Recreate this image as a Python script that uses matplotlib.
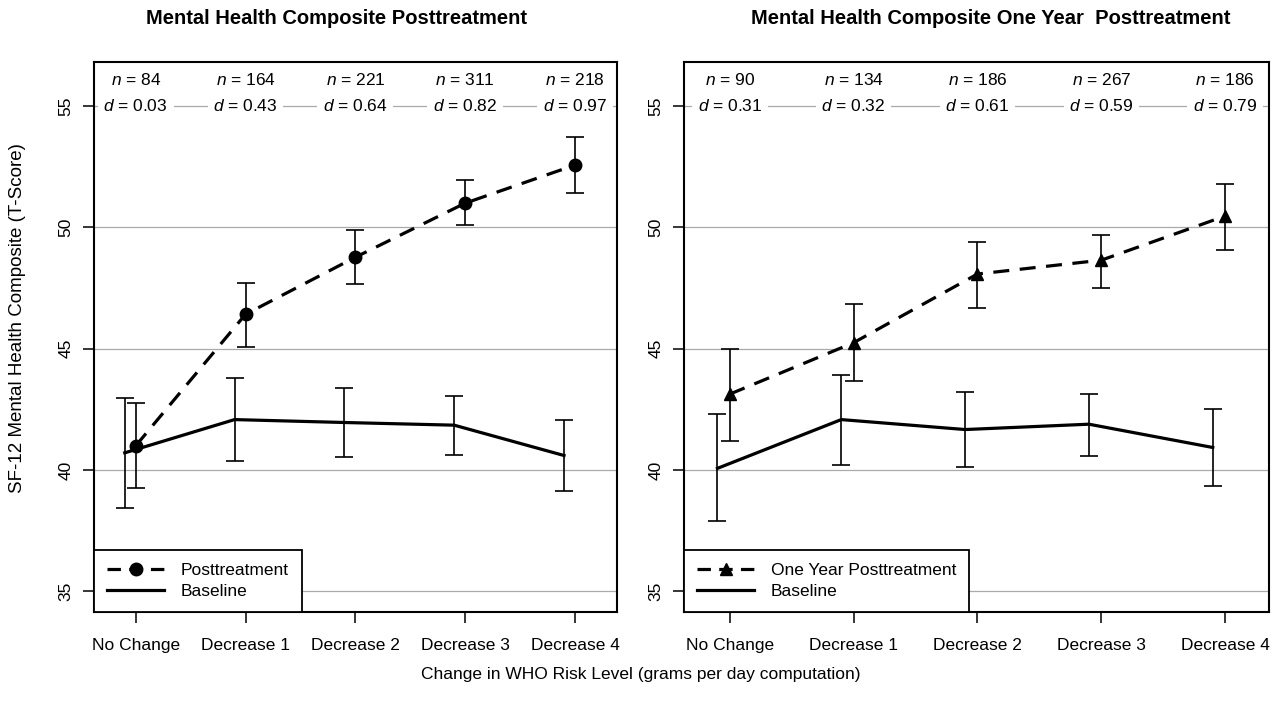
import matplotlib.pyplot as plt
from matplotlib.lines import Line2D
import numpy as np

# fonts: Arial-like, italic n and d via mathtext
plt.rcParams['font.family'] = ['Liberation Sans', 'DejaVu Sans']
plt.rcParams['mathtext.fontset'] = 'custom'
plt.rcParams['mathtext.it'] = 'Liberation Sans:italic'
plt.rcParams['mathtext.rm'] = 'Liberation Sans'

# data
categories = ['No Change', 'Decrease 1', 'Decrease 2', 'Decrease 3', 'Decrease 4']

post_mean = [41.0, 46.42, 48.77, 51.0, 52.57]
post_lo = [39.25, 45.08, 47.67, 50.1, 51.43]
post_hi = [42.77, 47.71, 49.88, 51.95, 53.71]
base1_mean = [40.71, 42.08, 41.96, 41.85, 40.6]
base1_lo = [38.42, 40.37, 40.52, 40.63, 39.14]
base1_hi = [42.99, 43.79, 43.40, 43.04, 42.08]
n1 = [84, 164, 221, 311, 218]
d1 = ['0.03', '0.43', '0.64', '0.82', '0.97']

year_mean = [43.13, 45.25, 48.08, 48.65, 50.47]
year_lo = [41.18, 43.65, 46.66, 47.49, 49.07]
year_hi = [45.0, 46.85, 49.38, 49.68, 51.8]
base2_mean = [40.07, 42.08, 41.67, 41.89, 40.93]
base2_lo = [37.88, 40.22, 40.11, 40.59, 39.36]
base2_hi = [42.29, 43.9, 43.23, 43.15, 42.52]
n2 = [90, 134, 186, 267, 186]
d2 = ['0.31', '0.32', '0.61', '0.59', '0.79']

W, H = 1282, 702
fig = plt.figure(figsize=(W / 100, H / 100), dpi=100)
ax1 = fig.add_axes([94 / W, 1 - 612 / H, (616.7 - 94) / W, (612 - 61.7) / H])
ax2 = fig.add_axes([684 / W, 1 - 612 / H, (1268.5 - 684) / W, (612 - 61.7) / H])

FS = 12.5


def draw_panel(ax, mean, lo, hi, b_mean, b_lo, b_hi, n, d, marker, label, xlim):
    x = np.arange(1, len(categories) + 1)
    mean, lo, hi = np.array(mean), np.array(lo), np.array(hi)
    b_mean, b_lo, b_hi = np.array(b_mean), np.array(b_lo), np.array(b_hi)

    for g in [35, 40, 45, 50, 55]:
        ax.axhline(g, color='#aaaaaa', lw=0.9, zorder=0)

    # baseline, shifted a bit left
    ax.plot(x - 0.1, b_mean, color='black', lw=2.3, zorder=3)
    ax.errorbar(x - 0.1, b_mean, yerr=[b_mean - b_lo, b_hi - b_mean], fmt='none',
                ecolor='black', elinewidth=1.2, capsize=6.2, capthick=1.2, zorder=3)

    # follow-up
    ax.plot(x, mean, color='black', lw=2.3, ls=(0, (5, 3.3)), marker=marker,
            ms=9, zorder=4)
    ax.errorbar(x, mean, yerr=[mean - lo, hi - mean], fmt='none',
                ecolor='black', elinewidth=1.2, capsize=6.2, capthick=1.2, zorder=4)

    # n and d labels along the top
    for i in range(len(x)):
        ax.text(x[i], 56.07, r'$n$ = %d' % n[i], ha='center', va='center', fontsize=FS)
        ax.text(x[i], 55.0, r'$d$ = ' + d[i], ha='center', va='center', fontsize=FS,
                bbox=dict(facecolor='white', edgecolor='none', pad=4), zorder=2)

    ax.set_xlim(*xlim)
    ax.set_ylim(34.15, 56.83)
    ax.set_xticks(x)
    ax.set_xticklabels(categories, fontsize=FS)
    ax.set_yticks([35, 40, 45, 50, 55])
    ax.set_yticklabels(['35', '40', '45', '50', '55'], fontsize=FS, rotation=90, va='center')
    ax.tick_params(axis='x', direction='out', length=8, width=1.1, pad=11)
    ax.tick_params(axis='y', direction='out', length=8, width=1.1, pad=7)
    for s in ax.spines.values():
        s.set_linewidth(1.5)

    # legend proxies (short dash - marker - dash)
    h1 = Line2D([], [], color='black', lw=2.3, ls=(0, (4.2, 2.6)), marker=marker, ms=9)
    h2 = Line2D([], [], color='black', lw=2.3)
    leg = ax.legend([h1, h2], [label, 'Baseline'], loc='lower left', borderaxespad=0,
                    fancybox=False, edgecolor='black', framealpha=1, fontsize=FS,
                    handlelength=3.3, handletextpad=0.95, labelspacing=0.35,
                    borderpad=0.75)
    leg.get_frame().set_linewidth(1.3)


draw_panel(ax1, post_mean, post_lo, post_hi, base1_mean, base1_lo, base1_hi,
           n1, d1, 'o', 'Posttreatment', (0.62, 5.38))
draw_panel(ax2, year_mean, year_lo, year_hi, base2_mean, base2_lo, base2_hi,
           n2, d2, '^', 'One Year Posttreatment', (0.63, 5.35))

# titles and shared labels
fig.text(337 / W, 1 - 18 / H, 'Mental Health Composite Posttreatment',
         ha='center', va='center', fontsize=14.5, fontweight='bold')
fig.text(991 / W, 1 - 18 / H, 'Mental Health Composite One Year  Posttreatment',
         ha='center', va='center', fontsize=14.5, fontweight='bold')
fig.text(18 / W, 1 - 318 / H, 'SF-12 Mental Health Composite (T-Score)',
         ha='center', va='center', rotation=90, fontsize=13.5)
fig.text(641 / W, 1 - 674 / H, 'Change in WHO Risk Level (grams per day computation)',
         ha='center', va='center', fontsize=FS)

fig.savefig('out.png', dpi=100)
